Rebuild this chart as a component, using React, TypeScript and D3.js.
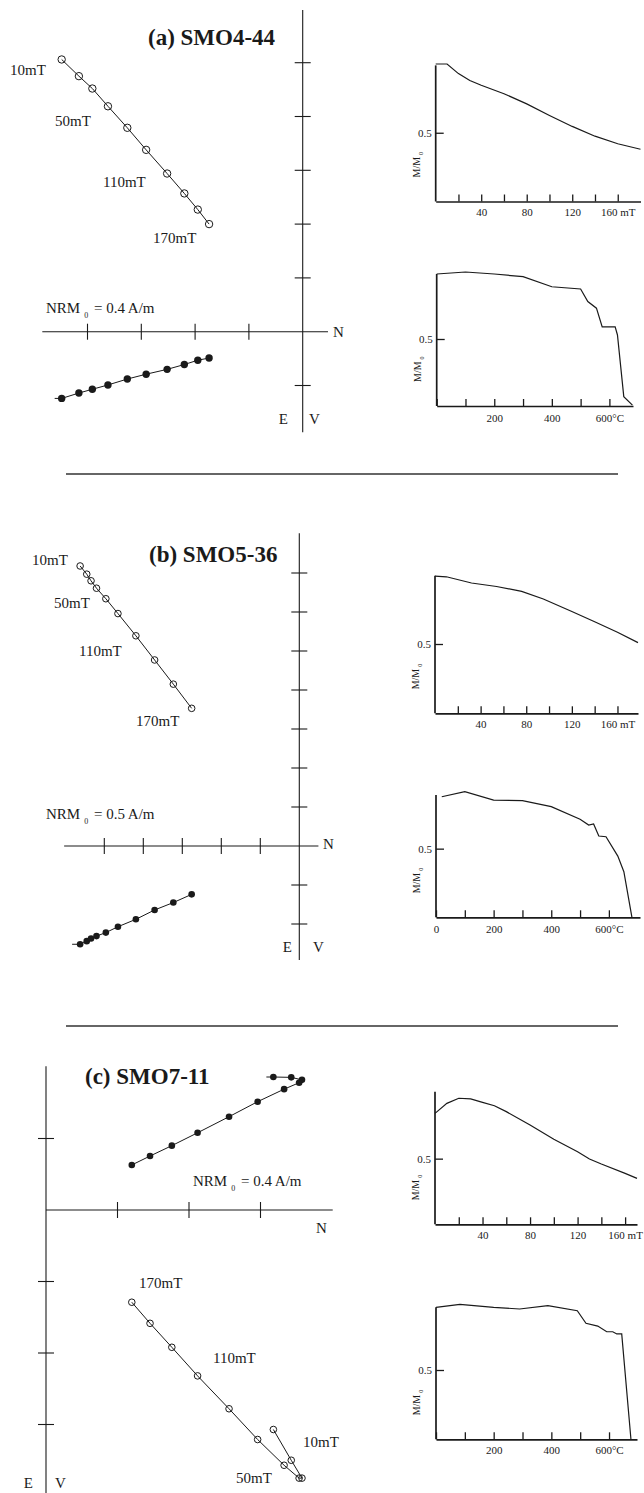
import React, { useRef, useEffect } from "react";
import * as d3 from "d3";

// demagnetisation step labels on the orthogonal plots
const stepNames = ["10mT", "50mT", "110mT", "170mT"];

// (a) SMO4-44 — orthogonal projection, in axis-tick units
const aNorth = [-4.48, -4.16, -3.91, -3.62, -3.26, -2.91, -2.52, -2.2, -1.95, -1.74];
const aEast = [-1.24, -1.14, -1.07, -0.99, -0.88, -0.79, -0.7, -0.61, -0.53, -0.49];
const aUp = [5.06, 4.75, 4.52, 4.19, 3.79, 3.38, 2.94, 2.57, 2.27, 2.0];
const aAfField = [0, 10, 20, 30, 40, 60, 80, 100, 120, 140, 160, 180];
const aAfMag = [1.0, 1.0, 0.93, 0.88, 0.845, 0.784, 0.71, 0.626, 0.546, 0.475, 0.42, 0.38];
const aThTemp = [0, 100, 200, 300, 400, 500, 525, 555, 575, 620, 628, 650, 680];
const aThMag = [0.985, 1.0, 0.985, 0.965, 0.89, 0.873, 0.78, 0.73, 0.59, 0.59, 0.53, 0.07, 0.006];

// (b) SMO5-36
const bNorth = [-5.62, -5.45, -5.34, -5.2, -4.96, -4.65, -4.19, -3.71, -3.23, -2.76];
const bEast = [-2.52, -2.44, -2.37, -2.31, -2.22, -2.07, -1.88, -1.64, -1.45, -1.24];
const bUp = [7.18, 6.97, 6.8, 6.61, 6.34, 5.96, 5.39, 4.77, 4.15, 3.53];
const bAfField = [0, 10, 32, 54, 76, 95, 120, 140, 160, 178];
const bAfMag = [0.99, 0.985, 0.94, 0.915, 0.88, 0.825, 0.735, 0.66, 0.585, 0.51];
const bThTemp = [20, 100, 200, 300, 400, 500, 530, 547, 565, 590, 631, 652, 680];
const bThMag = [0.878, 0.915, 0.854, 0.85, 0.806, 0.714, 0.672, 0.68, 0.592, 0.587, 0.446, 0.332, 0];

// (c) SMO7-11
const cNorth = [3.18, 3.43, 3.58, 3.54, 3.33, 2.96, 2.56, 2.12, 1.76, 1.455, 1.2];
const cEast = [1.86, 1.855, 1.82, 1.78, 1.69, 1.515, 1.305, 1.08, 0.9, 0.755, 0.63];
const cUp = [-3.07, -3.5, -3.75, -3.75, -3.57, -3.21, -2.78, -2.32, -1.92, -1.585, -1.29];
const cAfField = [0, 10, 20, 30, 40, 50, 60, 80, 100, 120, 130, 140, 160, 170];
const cAfMag = [0.845, 0.921, 0.96, 0.955, 0.929, 0.903, 0.858, 0.756, 0.647, 0.553, 0.497, 0.459, 0.388, 0.35];
const cThTemp = [0, 83, 200, 290, 388, 490, 520, 561, 592, 613, 627, 644, 676];
const cThMag = [0.952, 0.974, 0.952, 0.94, 0.964, 0.928, 0.837, 0.817, 0.776, 0.776, 0.76, 0.76, 0];

// tick labels
const afTicks = [20, 40, 60, 80, 100, 120, 140, 160];
const afTickText = ["", "40", "", "80", "", "120", "", "160 mT"];
const thTicks = [0, 100, 200, 300, 400, 500, 600];
const thTickText = ["", "", "200", "", "400", "", "600°C"];
const thTickTextB = ["0", "", "200", "", "400", "", "600°C"];

const titles = ["(a) SMO4-44", "(b) SMO5-36", "(c) SMO7-11"];
const nrmValues = ["0.4 A/m", "0.5 A/m", "0.4 A/m"];

const FONT = "'Liberation Serif', 'Times New Roman', Times, serif";
const INK = "#1a1a1a";

const text = (g: any, s: string, x: number, y: number, size = 15, anchor = "start") =>
  g
    .append("text")
    .attr("x", x)
    .attr("y", y)
    .attr("font-size", size)
    .attr("text-anchor", anchor)
    .attr("fill", INK)
    .text(s);

function zijderveld(g: any, p: any, north: number[], east: number[], up: number[], idx: number) {
  const x = d3.scaleLinear().domain([0, 1]).range([p.ox, p.ox + p.unit]);
  const y = d3.scaleLinear().domain([0, 1]).range([p.oy, p.oy - p.unit]);

  // axes + ticks
  const ax = g.append("g").attr("stroke", INK).attr("stroke-width", 1.1);
  ax.append("line").attr("x1", x(p.nMin)).attr("x2", x(p.nMax)).attr("y1", y(0)).attr("y2", y(0));
  ax.append("line").attr("x1", x(0)).attr("x2", x(0)).attr("y1", y(p.vMax)).attr("y2", y(p.vMin));
  ax.selectAll(".nt")
    .data(p.nTicks)
    .join("line")
    .attr("x1", (d: number) => x(d))
    .attr("x2", (d: number) => x(d))
    .attr("y1", y(0) - 8)
    .attr("y2", y(0) + 8);
  ax.selectAll(".vt")
    .data(p.vTicks)
    .join("line")
    .attr("x1", x(0) - 8)
    .attr("x2", x(0) + 8)
    .attr("y1", (d: number) => y(d))
    .attr("y2", (d: number) => y(d));

  const line = d3
    .line<[number, number]>()
    .x((d) => x(d[0]))
    .y((d) => y(d[1]));

  // horizontal projection, filled
  const hor: [number, number][] = north.map((n, i) => [n, east[i]]);
  g.append("line")
    .attr("x1", x(hor[0][0]) - p.tail)
    .attr("x2", x(hor[0][0]))
    .attr("y1", y(hor[0][1]))
    .attr("y2", y(hor[0][1]))
    .attr("stroke", INK);
  g.append("path").attr("d", line(hor)).attr("fill", "none").attr("stroke", INK).attr("stroke-width", 1);
  g.selectAll(".hp")
    .data(hor)
    .join("circle")
    .attr("cx", (d: any) => x(d[0]))
    .attr("cy", (d: any) => y(d[1]))
    .attr("r", p.r)
    .attr("fill", INK);

  // vertical projection, open
  const ver: [number, number][] = north.map((n, i) => [n, up[i]]);
  g.append("path").attr("d", line(ver)).attr("fill", "none").attr("stroke", INK).attr("stroke-width", 1);
  g.selectAll(".vp")
    .data(ver)
    .join("circle")
    .attr("cx", (d: any) => x(d[0]))
    .attr("cy", (d: any) => y(d[1]))
    .attr("r", p.r)
    .attr("fill", "none")
    .attr("stroke", INK)
    .attr("stroke-width", 1);

  // labels
  text(g, titles[idx], p.titleAt[0], p.titleAt[1], 23).attr("font-weight", "bold");
  stepNames.forEach((s, i) => text(g, s, p.stepAt[i][0], p.stepAt[i][1], 15));
  const nrm = text(g, "NRM", p.nrmAt[0], p.nrmAt[1], 15);
  nrm.append("tspan").attr("dx", 4).attr("dy", 5).attr("font-size", 8).text("0");
  nrm.append("tspan").attr("dx", 2).attr("dy", -5).text(" = " + nrmValues[idx]);
  text(g, "N", p.nAt[0], p.nAt[1], 15);
  text(g, "E", p.eEnd, p.evY, 15, "end");
  text(g, "V", p.vStart, p.evY, 15);
}

function demag(g: any, p: any, xs: number[], ms: number[], ticks: number[], tickText: string[]) {
  const x = d3.scaleLinear().domain([0, p.xMax]).range([p.x0, p.x1]);
  const y = d3.scaleLinear().domain([0, 1]).range([p.y0, p.y1]);

  const xa = g
    .append("g")
    .attr("transform", `translate(0,${p.y0})`)
    .call(
      d3
        .axisBottom(x)
        .tickValues(ticks)
        .tickFormat((d: any, i: number) => tickText[i])
        .tickSize(-7)
        .tickSizeOuter(0)
        .tickPadding(p.pad)
    );
  xa.attr("font-family", FONT).attr("font-size", 11);
  xa.select(".domain").attr("stroke", INK).attr("stroke-width", 1.7);
  xa.selectAll(".tick line").attr("stroke", INK).attr("stroke-width", 1.3);
  xa.selectAll(".tick text").attr("fill", INK);

  const ya = g
    .append("g")
    .attr("transform", `translate(${p.x0},0)`)
    .call(d3.axisLeft(y).tickValues([0.5]).tickFormat(d3.format(".1f")).tickSize(-8).tickPadding(4));
  ya.attr("font-family", FONT).attr("font-size", 11);
  ya.select(".domain").remove();
  ya.selectAll(".tick line").attr("stroke", INK).attr("stroke-width", 1.3);
  ya.selectAll(".tick text").attr("fill", INK);

  g.append("line")
    .attr("x1", p.x0)
    .attr("x2", p.x0)
    .attr("y1", y(0))
    .attr("y2", y(p.top))
    .attr("stroke", INK)
    .attr("stroke-width", 1.7);

  const curve = d3
    .line<number>()
    .x((d, i) => x(xs[i]))
    .y((d) => y(d));
  g.append("path").attr("d", curve(ms)).attr("fill", "none").attr("stroke", INK).attr("stroke-width", 1.2);

  const lab = g
    .append("text")
    .attr("transform", `translate(${p.x0 - 16},${p.y0 - 24}) rotate(-90)`)
    .attr("font-size", 10)
    .attr("fill", INK)
    .text("M/M");
  lab.append("tspan").attr("dx", 2).attr("dy", 3).attr("font-size", 6).text("0");
}

const App = () => {
  const svgRef = useRef<SVGSVGElement>(null);

  useEffect(() => {
    if (!svgRef.current) return;
    const svg = d3.select(svgRef.current);
    svg.selectAll("*").remove();
    const root = svg.append("g").attr("font-family", FONT);

    const zA = {
      ox: 302.7, oy: 331.7, unit: 53.8, nMin: -4.84, nMax: 0.47, vMin: -1.87, vMax: 5.98,
      nTicks: [-4, -3, -2, -1], vTicks: [5, 4, 3, 2, 1, -1], r: 3.7, tail: 7,
      titleAt: [148, 45], nrmAt: [46, 313], stepAt: [[10, 75], [55, 126], [103, 187], [153, 243]],
      nAt: [333, 337], eEnd: 288, vStart: 309, evY: 424,
    };
    const zB = {
      ox: 299.3, oy: 846, unit: 39, nMin: -6.03, nMax: 0.49, vMin: -2.92, vMax: 8.02,
      nTicks: [-5, -4, -3, -2, -1], vTicks: [7, 6, 5, 4, 3, 2, 1, -1, -2], r: 3.3, tail: 8,
      titleAt: [149, 562], nrmAt: [46, 819], stepAt: [[32, 565], [54, 608], [79, 656], [136, 726]],
      nAt: [323, 849], eEnd: 292, vStart: 313, evY: 952,
    };
    const zC = {
      ox: 46, oy: 1210, unit: 71.5, nMin: 0, nMax: 4.01, vMin: -3.96, vMax: 2.01,
      nTicks: [1, 2, 3], vTicks: [1, -1, -2, -3], r: 3.3, tail: 7,
      titleAt: [85, 1084], nrmAt: [193, 1186], stepAt: [[303, 1447], [236, 1483], [213, 1363], [139, 1288]],
      nAt: [316, 1233], eEnd: 33, vStart: 55, evY: 1488,
    };

    zijderveld(root.append("g"), zA, aNorth, aEast, aUp, 0);
    zijderveld(root.append("g"), zB, bNorth, bEast, bUp, 1);
    zijderveld(root.append("g"), zC, cNorth, cEast, cUp, 2);

    demag(root.append("g"), { x0: 435.7, x1: 640.5, xMax: 180, y0: 201.5, y1: 64, top: 0.99, pad: 7 }, aAfField, aAfMag, afTicks, afTickText);
    demag(root.append("g"), { x0: 436.7, x1: 633, xMax: 682, y0: 406, y1: 272, top: 0.985, pad: 8 }, aThTemp, aThMag, thTicks, thTickText);
    demag(root.append("g"), { x0: 435, x1: 638, xMax: 178, y0: 713.3, y1: 574.7, top: 0.993, pad: 7 }, bAfField, bAfMag, afTicks, afTickText);
    demag(root.append("g"), { x0: 436, x1: 640, xMax: 708, y0: 917.3, y1: 780, top: 0.89, pad: 8 }, bThTemp, bThMag, thTicks, thTickTextB);
    demag(root.append("g"), { x0: 435, x1: 637, xMax: 170, y0: 1224.3, y1: 1093, top: 1.01, pad: 7 }, cAfField, cAfMag, afTicks, afTickText);
    demag(root.append("g"), { x0: 436, x1: 637, xMax: 697, y0: 1439.3, y1: 1300.7, top: 0.952, pad: 7 }, cThTemp, cThMag, thTicks, thTickText);

    // separators between the three samples
    [474, 1026].forEach((yy) =>
      root.append("line").attr("x1", 66).attr("x2", 618).attr("y1", yy).attr("y2", yy).attr("stroke", "#333").attr("stroke-width", 1.6)
    );
  }, []);

  return (
    <svg
      ref={svgRef}
      width={644}
      height={1493}
      style={{ position: "absolute", left: 0, top: 0, display: "block", background: "#fff" }}
    ></svg>
  );
};

export default App;
